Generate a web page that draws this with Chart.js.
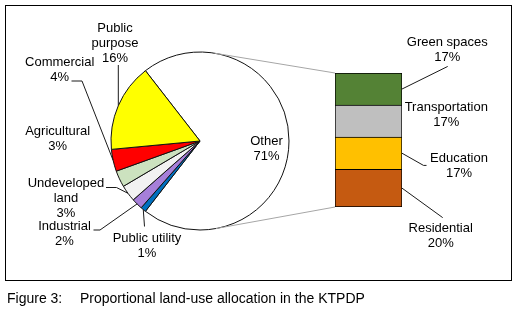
<!DOCTYPE html>
<html>
<head>
<meta charset="utf-8">
<script src="https://cdn.jsdelivr.net/npm/chart.js@4.4.1/dist/chart.umd.min.js"></script>
<style>
  html, body { margin:0; padding:0; background:#fff; }
  #wrap { position:relative; width:519px; height:319px; background:#fff; overflow:hidden; }
  #frame { position:absolute; left:5px; top:5px; width:507px; height:276px; border:1px solid #000; box-sizing:border-box; }
  canvas { position:absolute; left:0; top:0; }
  .cap { position:absolute; top:290px; font:14px "Liberation Sans", Arial, sans-serif; color:#000; line-height:16px; white-space:nowrap; }
</style>
</head>
<body>
<div id="wrap">
  <div id="frame"></div>
  <canvas id="pie" width="519" height="319"></canvas>
  <canvas id="bar" width="519" height="319"></canvas>
  <div class="cap" style="left:7px">Figure 3:</div>
  <div class="cap" style="left:80px">Proportional land-use allocation in the KTPDP</div>
</div>
<script>
// ---- data ----
const pieLabels = ['Other', 'Public utility', 'Industrial', 'Undeveloped land', 'Agricultural', 'Commercial', 'Public purpose'];
const pieValues = [71, 1, 2, 3, 3, 4, 16];
const pieColors = ['#FFFFFF', '#0070C0', '#A67FD9', '#F2F2F2', '#CCE2BF', '#FF0000', '#FFFF00'];

const barLabels = ['Residential', 'Education', 'Transportation', 'Green spaces'];
const barValues = [20, 17, 17, 17];
const barColors = ['#C55A11', '#FFC000', '#BFBFBF', '#548235'];

const FONT = '13px "Liberation Sans", Arial, sans-serif';
const LINE_H = 15;

// label layout (offsets from pie centre) and leader-line start points
const pieLabelLayout = {
  'Other':            { dx: 66.5,  dy: 0.5,    lines: ['Other'] },
  'Public utility':   { dx: -53,   dy: 97.5,   lines: ['Public utility'], lead: [[-55.5, 85.5]] },
  'Industrial':       { dx: -135.5,dy: 85.7,   lines: ['Industrial'], lead: [[-106.5, 89], [-100, 89]] },
  'Undeveloped land': { dx: -134,  dy: 42.3,   lines: ['Undeveloped', 'land'], lead: [[-94, 46.5], [-83.5, 46.5]] },
  'Agricultural':     { dx: -142.3,dy: -9.3,   lines: ['Agricultural'] },
  'Commercial':       { dx: -140.3,dy: -78.3,  lines: ['Commercial'], lead: [[-128.5, -60], [-118, -60]] },
  'Public purpose':   { dx: -85,   dy: -112.7, lines: ['Public', 'purpose'], lead: [[-81.7, -76]] }
};
// offsets from bar right edge / segment middle
const barLabelLayout = {
  'Green spaces':   { dx: 45.3, dy: -46.6, lead: [45.7, -22.6] },
  'Transportation': { dx: 44.3, dy: -13.6 },
  'Education':      { dx: 57,   dy: 5.5,   lead: [21.5, 12.2], tail: [24.5, 12.2] },
  'Residential':    { dx: 38.7, dy: 39.9,  lead: [40.7, 29.5] }
};

const total = pieValues.reduce((a, b) => a + b, 0);
const pct = v => Math.round(v / total * 100) + '%';
const barTotal = barValues.reduce((a, b) => a + b, 0);
const barPct = v => Math.round(v / barTotal * pieValues[0]) + '%';

function drawLines(ctx, text, x, y) {
  text.forEach((t, i) => ctx.fillText(t, x, y + i * LINE_H));
}

const pieLabelPlugin = {
  id: 'pieLabels',
  afterDatasetsDraw(chart) {
    const ctx = chart.ctx;
    const meta = chart.getDatasetMeta(0);
    const c = meta.data[0];
    const cx = c.x, cy = c.y;
    ctx.save();
    ctx.font = FONT;
    ctx.fillStyle = '#000';
    ctx.textAlign = 'center';
    ctx.textBaseline = 'middle';
    pieLabels.forEach((name, i) => {
      const L = pieLabelLayout[name];
      const arc = meta.data[i];
      drawLines(ctx, L.lines.concat([pct(pieValues[i])]), cx + L.dx, cy + L.dy);
      if (L.lead) {
        const mid = (arc.startAngle + arc.endAngle) / 2;
        const ex = arc.x + arc.outerRadius * Math.cos(mid);
        const ey = arc.y + arc.outerRadius * Math.sin(mid);
        ctx.beginPath();
        ctx.strokeStyle = '#1a1a1a';
        ctx.lineWidth = 1;
        L.lead.forEach((p, k) => {
          const px = cx + p[0], py = cy + p[1];
          if (k === 0) ctx.moveTo(px, py); else ctx.lineTo(px, py);
        });
        ctx.lineTo(ex, ey);
        ctx.stroke();
      }
    });
    ctx.restore();
  }
};

const pieChart = new Chart(document.getElementById('pie'), {
  type: 'pie',
  data: {
    labels: pieLabels,
    datasets: [{
      data: pieValues,
      backgroundColor: pieColors,
      borderColor: '#111',
      borderWidth: 1,
      radius: 89,
      rotation: 90 - (pieValues[0] / total * 360) / 2
    }]
  },
  options: {
    responsive: false,
    animation: false,
    devicePixelRatio: 1,
    layout: { padding: { left: 0, top: 0, right: 119, bottom: 37 } },
    plugins: { legend: { display: false }, tooltip: { enabled: false } }
  },
  plugins: [pieLabelPlugin]
});

const barPlugin = {
  id: 'barExtras',
  beforeDatasetsDraw(chart) {
    // series lines: tangents from bar corners to the pie circle
    const ctx = chart.ctx;
    const arc = pieChart.getDatasetMeta(0).data[0];
    const C = { x: arc.x, y: arc.y }, r = arc.outerRadius;
    const topBar = chart.getDatasetMeta(barValues.length - 1).data[0];
    const botBar = chart.getDatasetMeta(0).data[0];
    const left = topBar.x - topBar.width / 2;
    const corners = [[left, topBar.y, -1], [left, botBar.base, 1]];
    ctx.save();
    ctx.strokeStyle = '#A6A6A6';
    ctx.lineWidth = 1;
    corners.forEach(([px, py, s]) => {
      const d = Math.hypot(px - C.x, py - C.y);
      const th = Math.atan2(py - C.y, px - C.x);
      const al = Math.acos(r / d);
      const a = th + s * al;
      ctx.beginPath();
      ctx.moveTo(C.x + r * Math.cos(a), C.y + r * Math.sin(a));
      ctx.lineTo(px, py);
      ctx.stroke();
    });
    ctx.restore();
  },
  afterDatasetsDraw(chart) {
    const ctx = chart.ctx;
    ctx.save();
    ctx.font = FONT;
    ctx.fillStyle = '#000';
    ctx.textAlign = 'center';
    ctx.textBaseline = 'middle';
    barLabels.forEach((name, i) => {
      const el = chart.getDatasetMeta(i).data[0];
      const right = el.x + el.width / 2;
      const midY = (el.y + el.base) / 2;
      const L = barLabelLayout[name];
      drawLines(ctx, [name, barPct(barValues[i])], right + L.dx, midY + L.dy);
      if (L.lead) {
        ctx.beginPath();
        ctx.strokeStyle = '#1a1a1a';
        ctx.lineWidth = 1;
        ctx.moveTo(right, midY);
        ctx.lineTo(right + L.lead[0], midY + L.lead[1]);
        if (L.tail) ctx.lineTo(right + L.tail[0], midY + L.tail[1]);
        ctx.stroke();
      }
    });
    ctx.restore();
  }
};

new Chart(document.getElementById('bar'), {
  type: 'bar',
  data: {
    labels: [''],
    datasets: barLabels.map((name, i) => ({
      label: name,
      data: [barValues[i]],
      backgroundColor: barColors[i],
      borderColor: '#000',
      borderWidth: 1,
      borderSkipped: i === 0 ? false : 'bottom',
      barPercentage: 1,
      categoryPercentage: 1
    }))
  },
  options: {
    responsive: false,
    animation: false,
    devicePixelRatio: 1,
    layout: { padding: { left: 335, right: 117, top: 73, bottom: 112 } },
    scales: {
      x: { display: false, stacked: true },
      y: { display: false, stacked: true, min: 0, max: barTotal }
    },
    plugins: { legend: { display: false }, tooltip: { enabled: false } }
  },
  plugins: [barPlugin]
});
</script>
</body>
</html>
